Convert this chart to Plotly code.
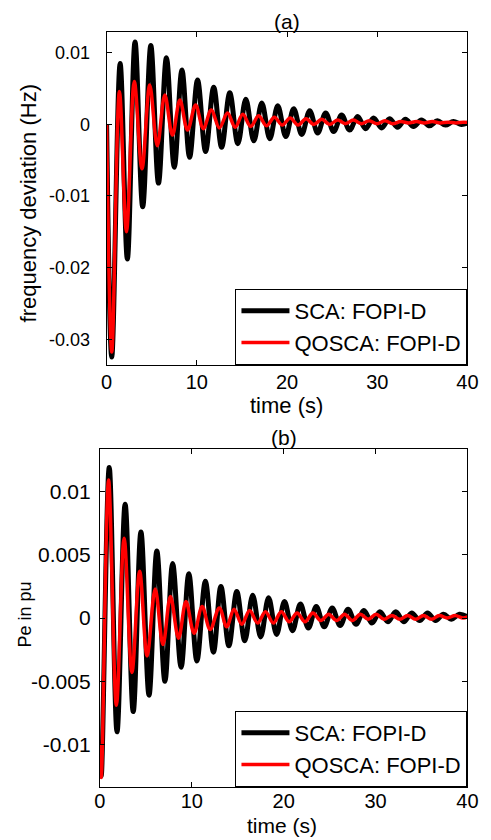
import plotly.graph_objects as go

# ---------------- data ----------------
# Panel (a): frequency deviation (Hz)
a_sca_trough_t = [0.57, 2.3, 4.0, 5.75, 7.5, 9.2, 10.97, 12.75, 14.55, 16.32, 18.09, 19.86, 21.63,
                  23.4, 25.17, 26.94, 28.71, 30.48, 32.25, 34.02, 35.79, 37.56, 39.33]
a_sca_trough_v = [-0.0325, -0.0188, -0.0115, -0.0082, -0.0060, -0.0046, -0.0038, -0.0032, -0.0027,
                  -0.0023, -0.0020, -0.0017, -0.0014, -0.0012, -0.0010, -0.0008, -0.0006, -0.0005,
                  -0.0004, -0.0003, -0.0002, -0.0001, 0.0000]
a_sca_peak_t = [1.5, 3.15, 4.9, 6.63, 8.35, 10.08, 11.87, 13.65, 15.43, 17.2, 18.97, 20.74, 22.51,
                24.28, 26.05, 27.82, 29.59, 31.36, 33.13, 34.9, 36.67, 38.44]
a_sca_peak_v = [0.0085, 0.0115, 0.0110, 0.0093, 0.0076, 0.0062, 0.0052, 0.0044, 0.0035, 0.0030,
                0.0026, 0.0022, 0.0019, 0.0016, 0.0013, 0.0011, 0.0009, 0.0008, 0.0007, 0.0006,
                0.0005, 0.0004]
a_sca_ends_t = [0.0, 40.0]
a_sca_ends_v = [0.0, 0.0002]

a_qos_trough_t = [0.57, 2.2, 3.92, 5.62, 7.3, 8.97, 10.72, 12.5, 14.25, 15.97, 17.72, 19.47, 21.22,
                  22.97, 24.72, 26.47, 28.22, 29.97, 31.72, 33.47, 35.22, 36.97, 38.72]
a_qos_trough_v = [-0.0318, -0.0150, -0.0062, -0.0030, -0.0015, -0.0008, -0.0006, -0.0005, -0.0004,
                  -0.0003, -0.0002, -0.0001, -0.0001, 0.0000, 0.0000, 0.0001, 0.0001, 0.0001,
                  0.0001, 0.0002, 0.0002, 0.0002, 0.0002]
a_qos_peak_t = [1.42, 3.07, 4.78, 6.45, 8.12, 9.87, 11.6, 13.4, 15.1, 16.85, 18.6, 20.35, 22.1,
                23.85, 25.6, 27.35, 29.1, 30.85, 32.6, 34.35, 36.1, 37.85, 39.6]
a_qos_peak_v = [0.0046, 0.0060, 0.0055, 0.0041, 0.0034, 0.0027, 0.0020, 0.0016, 0.0014, 0.0012,
                0.0010, 0.0009, 0.0008, 0.0007, 0.0006, 0.0006, 0.0005, 0.0005, 0.0004, 0.0004,
                0.0004, 0.0003, 0.0003]
a_qos_ends_t = [0.0, 40.0]
a_qos_ends_v = [0.0, 0.00025]

# Panel (b): Pe in pu
b_sca_trough_t = [0.15, 1.87, 3.63, 5.35, 7.08, 8.84, 10.56, 12.36, 14.04, 15.77, 17.5, 19.23,
                  20.96, 22.69, 24.42, 26.15, 27.88, 29.61, 31.34, 33.07, 34.8, 36.53, 38.26]
b_sca_trough_v = [-0.0125, -0.0090, -0.0074, -0.0061, -0.0050, -0.0039, -0.0034, -0.0027, -0.0022,
                  -0.0018, -0.0015, -0.0013, -0.0010, -0.0008, -0.0007, -0.0006, -0.0005, -0.0004,
                  -0.0003, -0.0003, -0.0002, -0.0002, -0.0001]
b_sca_peak_t = [1.02, 2.75, 4.47, 6.2, 7.92, 9.68, 11.48, 13.17, 14.9, 16.63, 18.36, 20.09, 21.82,
                23.55, 25.28, 27.01, 28.74, 30.47, 32.2, 33.93, 35.66, 37.39, 39.12]
b_sca_peak_v = [0.0119, 0.0090, 0.0068, 0.0053, 0.0043, 0.0035, 0.0029, 0.0025, 0.0021, 0.0018,
                0.0016, 0.0013, 0.0011, 0.0009, 0.0008, 0.0007, 0.0006, 0.0005, 0.0005, 0.0004,
                0.0004, 0.0003, 0.0003]
b_sca_ends_t = [0.0, 40.0]
b_sca_ends_v = [-0.0100, 0.0001]

b_qos_trough_t = [0.15, 1.8, 3.49, 5.14, 6.87, 8.56, 10.25, 12.0, 13.8, 15.45, 17.16, 18.88, 20.6,
                  22.32, 24.04, 25.76, 27.48, 29.2, 30.92, 32.64, 34.36, 36.08, 37.8, 39.52]
b_qos_trough_v = [-0.0126, -0.0069, -0.0043, -0.0030, -0.0021, -0.0016, -0.0012, -0.0009, -0.0007,
                  -0.0005, -0.0004, -0.0004, -0.0003, -0.0003, -0.0002, -0.0002, -0.0002, -0.0001,
                  -0.0001, -0.0001, -0.0001, -0.0001, 0.0000, 0.0000]
b_qos_peak_t = [0.95, 2.64, 4.33, 6.02, 7.68, 9.37, 11.13, 13.0, 14.6, 16.3, 18.02, 19.74, 21.46,
                23.18, 24.9, 26.62, 28.34, 30.06, 31.78, 33.5, 35.22, 36.94, 38.66]
b_qos_peak_v = [0.0109, 0.0063, 0.0037, 0.0023, 0.0017, 0.0013, 0.0009, 0.0008, 0.0007, 0.0006,
                0.0005, 0.0005, 0.0004, 0.0004, 0.0003, 0.0003, 0.0003, 0.0003, 0.0002, 0.0002,
                0.0002, 0.0002, 0.0002]
b_qos_ends_t = [0.0, 40.0]
b_qos_ends_v = [-0.0100, 0.0001]

x_ticks = [0, 10, 20, 30, 40]
a_y_ticks = [-0.03, -0.02, -0.01, 0, 0.01]
a_y_labels = ["-0.03", "-0.02", "-0.01", "0", "0.01"]
b_y_ticks = [-0.01, -0.005, 0, 0.005, 0.01]
b_y_labels = ["-0.01", "-0.005", "0", "0.005", "0.01"]
series_names = ["SCA: FOPI-D", "QOSCA: FOPI-D"]


def merge(*pairs):
    pts = []
    for t, v in pairs:
        pts += list(zip(t, v))
    pts.sort(key=lambda p: p[0])
    return [p[0] for p in pts], [p[1] for p in pts]


a_sca = merge((a_sca_trough_t, a_sca_trough_v), (a_sca_peak_t, a_sca_peak_v), (a_sca_ends_t, a_sca_ends_v))
a_qos = merge((a_qos_trough_t, a_qos_trough_v), (a_qos_peak_t, a_qos_peak_v), (a_qos_ends_t, a_qos_ends_v))
b_sca = merge((b_sca_trough_t, b_sca_trough_v), (b_sca_peak_t, b_sca_peak_v), (b_sca_ends_t, b_sca_ends_v))
b_qos = merge((b_qos_trough_t, b_qos_trough_v), (b_qos_peak_t, b_qos_peak_v), (b_qos_ends_t, b_qos_ends_v))

# ---------------- figure ----------------
# The page body has an 8 px margin, so the figure is made 8 px smaller and
# page pixel positions are converted to paper fractions with that offset.
OFF = 8
W, H = 491 - OFF, 840 - OFF
FONT = "Liberation Sans, Arial, Helvetica, sans-serif"


def px_x(p):
    return (p - OFF) / W


def px_y(p):
    return 1 - (p - OFF) / H


fig = go.Figure()
fig.add_trace(go.Scatter(x=a_sca[0], y=a_sca[1], mode="lines", name=series_names[0],
                         line=dict(color="black", width=5, shape="spline", smoothing=1.0),
                         xaxis="x", yaxis="y", legend="legend"))
fig.add_trace(go.Scatter(x=a_qos[0], y=a_qos[1], mode="lines", name=series_names[1],
                         line=dict(color="#ff0000", width=3.5, shape="spline", smoothing=1.0),
                         xaxis="x", yaxis="y", legend="legend"))
fig.add_trace(go.Scatter(x=b_sca[0], y=b_sca[1], mode="lines", name=series_names[0],
                         line=dict(color="black", width=5, shape="spline", smoothing=1.0),
                         xaxis="x2", yaxis="y2", legend="legend2"))
fig.add_trace(go.Scatter(x=b_qos[0], y=b_qos[1], mode="lines", name=series_names[1],
                         line=dict(color="#ff0000", width=3.5, shape="spline", smoothing=1.0),
                         xaxis="x2", yaxis="y2", legend="legend2"))


def axis_common(fs):
    return dict(showline=True, linecolor="black", linewidth=1, mirror="ticks",
                ticks="inside", ticklen=5, tickcolor="black", tickwidth=1,
                showgrid=False, zeroline=False,
                tickfont=dict(family=FONT, size=fs, color="black"))


leg_common = dict(xanchor="right", yanchor="bottom", bgcolor="white", bordercolor="black",
                  borderwidth=1, font=dict(family=FONT, size=22, color="black"),
                  tracegroupgap=0, itemwidth=48)

# panel (a) geometry (page px): x 104..478, y 32..365
# panel (b) geometry (page px): x 97..478, y 449..787
fig.update_layout(
    width=W, height=H,
    margin=dict(l=0, r=0, t=0, b=0),
    paper_bgcolor="white", plot_bgcolor="white",
    font=dict(family=FONT, color="black"),
    xaxis=dict(domain=[px_x(104), px_x(478)], range=[0, 40], tickvals=x_ticks,
               anchor="y", ticklabelstandoff=-1, **axis_common(20)),
    yaxis=dict(domain=[px_y(365), px_y(32)], range=[-0.0336, 0.0129], tickvals=a_y_ticks,
               ticktext=a_y_labels, anchor="x", ticklabelstandoff=12, **axis_common(18)),
    xaxis2=dict(domain=[px_x(97), px_x(478)], range=[0, 40], tickvals=x_ticks,
                anchor="y2", ticklabelstandoff=-4, **axis_common(20)),
    yaxis2=dict(domain=[px_y(787), px_y(449)], range=[-0.01336, 0.01336], tickvals=b_y_ticks,
                ticktext=b_y_labels, anchor="x2", ticklabelstandoff=4, **axis_common(21)),
    legend=dict(x=px_x(478), y=px_y(365), **leg_common),
    legend2=dict(x=px_x(478), y=px_y(787), **leg_common),
    showlegend=True,
)

ann_font = dict(family=FONT, size=21, color="black")
annotations = [
    dict(text="(a)", x=px_x(291), y=px_y(21), xref="paper", yref="paper", showarrow=False,
         font=ann_font, xanchor="center", yanchor="middle"),
    dict(text="(b)", x=px_x(288), y=px_y(437), xref="paper", yref="paper", showarrow=False,
         font=ann_font, xanchor="center", yanchor="middle"),
    dict(text="time (s)", x=px_x(290), y=px_y(405), xref="paper", yref="paper", showarrow=False,
         font=dict(family=FONT, size=22, color="black"), xanchor="center", yanchor="middle"),
    dict(text="time (s)", x=px_x(286), y=px_y(825), xref="paper", yref="paper", showarrow=False,
         font=ann_font, xanchor="center", yanchor="middle"),
    dict(text="frequency deviation (Hz)", x=px_x(23), y=px_y(203), xref="paper", yref="paper",
         showarrow=False, textangle=-90, font=dict(family=FONT, size=22, color="black"),
         xanchor="center", yanchor="middle"),
    dict(text="Pe in pu", x=px_x(19), y=px_y(615), xref="paper", yref="paper",
         showarrow=False, textangle=-90, font=dict(family=FONT, size=18, color="black"),
         xanchor="center", yanchor="middle"),
]
fig.update_layout(annotations=annotations)

fig.write_html("out.html")
